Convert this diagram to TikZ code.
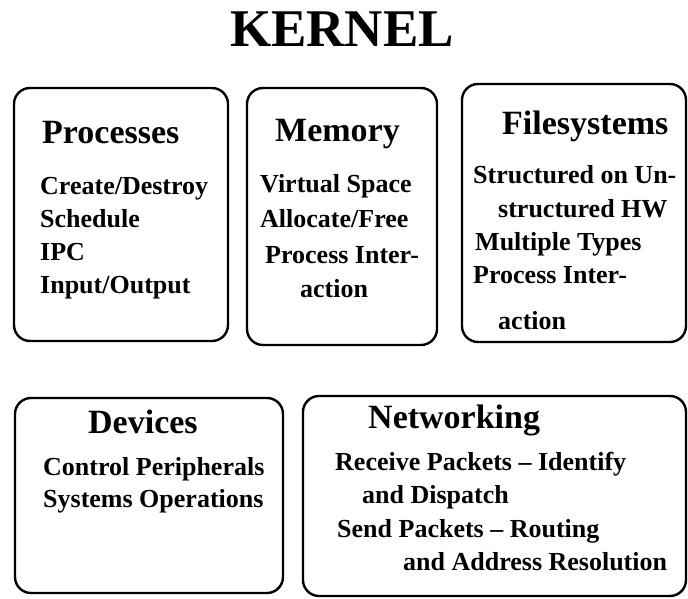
\documentclass[tikz,border=0pt]{standalone}
\usepackage{fontspec}
\setmainfont{Liberation Serif}
\begin{document}
\begin{tikzpicture}[x=1pt, y=-1pt,
    panel/.style={line width=2.4pt, rounded corners=16pt},
    head/.style={anchor=base west, inner sep=0pt, font=\fontsize{34}{40}\selectfont\bfseries},
    item/.style={anchor=base west, inner sep=0pt, font=\fontsize{26}{31}\selectfont\bfseries}]
    \useasboundingbox (0,0) rectangle (688,599);
    \node[anchor=base, inner sep=0pt, font=\fontsize{53}{60}\selectfont\bfseries] (title) at (342,47) {KERNEL};
    % upper row
    \draw[panel] (14,88) rectangle (228,341);
    \node[head] (ph) at (42,143) {Processes};
    \node[item] (p1) at (40,194) {Create/Destroy};
    \node[item] (p2) at (40,227) {Schedule};
    \node[item] (p3) at (40,260) {IPC};
    \node[item] (p4) at (40,293) {Input/Output};
    \draw[panel] (247,88) rectangle (437,345);
    \node[head] (mh) at (275,142) {Memory};
    \node[item] (m1) at (260,192) {Virtual Space};
    \node[item] (m2) at (260,227) {Allocate/Free};
    \node[item] (m3) at (265,263) {Process Inter-};
    \node[item] (m4) at (300,297) {action};
    \draw[panel] (462,84) rectangle (686,342);
    \node[head] (fh) at (502,135) {Filesystems};
    \node[item] (f1) at (473,183) {Structured on Un-};
    \node[item] (f2) at (498,217) {structured HW};
    \node[item] (f3) at (475,250) {Multiple Types};
    \node[item] (f4) at (473,283) {Process Inter-};
    \node[item] (f5) at (498,329) {action};
    % lower row
    \draw[panel] (15,398) rectangle (283,593);
    \node[head] (dh) at (88,433) {Devices};
    \node[item] (d1) at (43,475) {Control Peripherals};
    \node[item] (d2) at (43,507) {Systems Operations};
    \draw[panel] (303,396) rectangle (686,596);
    \node[head] (nh) at (368,428) {Networking};
    \node[item] (n1) at (335,470) {Receive Packets -- Identify};
    \node[item] (n2) at (362,503) {and Dispatch};
    \node[item] (n3) at (337,537) {Send Packets -- Routing};
    \node[item] (n4) at (403,570) {and Address Resolution};
\end{tikzpicture}
\end{document}
